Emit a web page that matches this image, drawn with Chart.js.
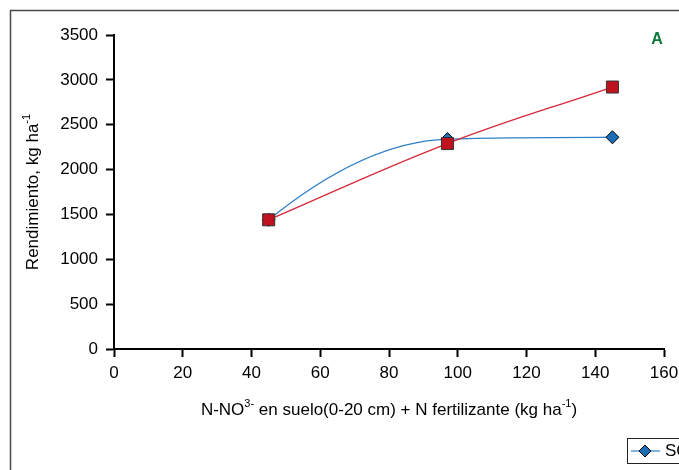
<!DOCTYPE html>
<html>
<head>
<meta charset="utf-8">
<script src="https://cdn.jsdelivr.net/npm/chart.js@4/dist/chart.umd.min.js"></script>
<style>
  html, body { margin: 0; padding: 0; background: #fff; overflow: hidden; }
  #wrap { width: 679px; height: 470px; overflow: hidden; position: relative; }
  canvas { position: absolute; left: 0; top: 0; }
</style>
</head>
<body>
<div id="wrap"><canvas id="chart" width="760" height="520"></canvas></div>
<script>
// N disponible (kg/ha) y rendimiento (kg/ha)
const xValues = [45, 97, 145];
const serieSC = [1440, 2340, 2360];
const serieCC = [1440, 2290, 2920];
const seriesNames = ['SC', 'CC'];
const xTicks = [0, 20, 40, 60, 80, 100, 120, 140, 160];
const yTicks = [0, 500, 1000, 1500, 2000, 2500, 3000, 3500];

const FONT = '"Liberation Sans", Arial, sans-serif';
const FS = 17;

function toPoints(ys) {
    return xValues.map((x, i) => ({ x: x, y: ys[i] }));
}

// text with superscript pieces, left aligned, middle baseline
function richWidth(ctx, parts, size) {
    let w = 0;
    parts.forEach(p => {
        ctx.font = (p.sup ? Math.round(size * 0.62) : size) + 'px ' + FONT;
        w += ctx.measureText(p.t).width;
    });
    return w;
}
function drawRich(ctx, parts, x, y, size) {
    ctx.textAlign = 'left';
    ctx.textBaseline = 'middle';
    parts.forEach(p => {
        const s = p.sup ? Math.round(size * 0.62) : size;
        ctx.font = s + 'px ' + FONT;
        ctx.fillText(p.t, x, p.sup ? y - size * 0.35 : y);
        x += ctx.measureText(p.t).width;
    });
}

const xTitle = [
    { t: 'N-NO' }, { t: '3-', sup: true },
    { t: ' en suelo(0-20 cm) + N fertilizante (kg ha' }, { t: '-1', sup: true }, { t: ')' }
];
const yTitle = [{ t: 'Rendimiento, kg ha' }, { t: '-1', sup: true }];

// Excel-style smoothing: steeper start on the blue curve
const smoothStart = {
    id: 'smoothStart',
    beforeDatasetDraw(chart, args) {
        if (args.index !== 0) return;
        const meta = args.meta;
        const line = meta.dataset;
        line.updateControlPoints(chart.chartArea, 'x');
        const p0 = meta.data[0], p1 = meta.data[1];
        p0.cp2x = p0.x + (p1.x - p0.x) / 3;
        p0.cp2y = p0.y + 1.8 * (p1.y - p0.y) / 3;
        line._path = undefined;
    }
};

const extras = {
    id: 'extras',
    afterDraw(chart) {
        const ctx = chart.ctx;
        const area = chart.chartArea;
        ctx.save();

        // outer frame
        ctx.strokeStyle = '#4a4a4a';
        ctx.lineWidth = 1.5;
        ctx.strokeRect(10.5, 10.5, 740, 500);

        ctx.fillStyle = '#000';
        const wx = richWidth(ctx, xTitle, FS);
        drawRich(ctx, xTitle, (area.left + area.right) / 2 - wx / 2, 410, FS);

        const wy = richWidth(ctx, yTitle, FS);
        ctx.save();
        ctx.translate(33, (area.top + area.bottom) / 2);
        ctx.rotate(-Math.PI / 2);
        drawRich(ctx, yTitle, -wy / 2, 0, FS);
        ctx.restore();

        // panel letter
        ctx.fillStyle = '#0b7a3b';
        ctx.font = 'bold 16px ' + FONT;
        ctx.textAlign = 'center';
        ctx.textBaseline = 'middle';
        ctx.fillText('A', 657, 40);

        // legend (clipped by the window, like the original)
        ctx.strokeStyle = '#222';
        ctx.lineWidth = 1;
        ctx.strokeRect(627.5, 438.5, 140, 25);
        ctx.strokeStyle = '#2f7fc8';
        ctx.lineWidth = 1.2;
        ctx.beginPath();
        ctx.moveTo(631, 451);
        ctx.lineTo(660, 451);
        ctx.stroke();
        ctx.fillStyle = '#1c6db5';
        ctx.strokeStyle = '#000';
        ctx.lineWidth = 1;
        ctx.beginPath();
        ctx.moveTo(645, 445);
        ctx.lineTo(651, 451);
        ctx.lineTo(645, 457);
        ctx.lineTo(639, 451);
        ctx.closePath();
        ctx.fill();
        ctx.stroke();
        ctx.fillStyle = '#000';
        ctx.font = FS + 'px ' + FONT;
        ctx.textAlign = 'left';
        ctx.fillText(seriesNames[0], 665, 451);

        ctx.restore();
    }
};

const tickFont = { family: FONT, size: FS };

const ctx = document.getElementById('chart').getContext('2d');
const chart = new Chart(ctx, {
    type: 'scatter',
    data: {
        datasets: [
            {
                label: seriesNames[0],
                data: toPoints(serieSC),
                showLine: true,
                cubicInterpolationMode: 'monotone',
                borderColor: '#2f7fc8',
                borderWidth: 1.3,
                pointStyle: 'rectRot',
                pointRadius: 6.5,
                pointBackgroundColor: '#1c6db5',
                pointBorderColor: '#000',
                pointBorderWidth: 1,
                order: 1
            },
            {
                label: seriesNames[1],
                data: toPoints(serieCC),
                showLine: true,
                tension: 0.4,
                borderColor: '#d42a3a',
                borderWidth: 1.3,
                pointStyle: 'rect',
                pointRadius: 8.5,
                pointBackgroundColor: '#c0111f',
                pointBorderColor: '#333',
                pointBorderWidth: 1,
                order: 0
            }
        ]
    },
    options: {
        responsive: false,
        animation: false,
        devicePixelRatio: 1,
        layout: { padding: { left: 0, top: 35, right: 96, bottom: 141 } },
        plugins: { legend: { display: false }, tooltip: { enabled: false } },
        scales: {
            x: {
                type: 'linear',
                min: xTicks[0],
                max: xTicks[xTicks.length - 1],
                afterBuildTicks: s => { s.ticks = xTicks.map(v => ({ value: v })); },
                afterFit: s => { s.height = 30; },
                grid: { drawOnChartArea: false, tickLength: 8, tickColor: '#000', tickWidth: 2 },
                border: { color: '#000', width: 2 },
                ticks: { color: '#000', font: tickFont, padding: 6, maxRotation: 0, callback: v => String(v) }
            },
            y: {
                min: yTicks[0],
                max: yTicks[yTicks.length - 1],
                afterBuildTicks: s => { s.ticks = yTicks.map(v => ({ value: v })); },
                afterFit: s => { s.width = 114; },
                grid: { drawOnChartArea: false, tickLength: 8, tickColor: '#000', tickWidth: 2 },
                border: { color: '#000', width: 2 },
                ticks: { color: '#000', font: tickFont, padding: 8, callback: v => String(v) }
            }
        }
    },
    plugins: [smoothStart, extras]
});
</script>
</body>
</html>
